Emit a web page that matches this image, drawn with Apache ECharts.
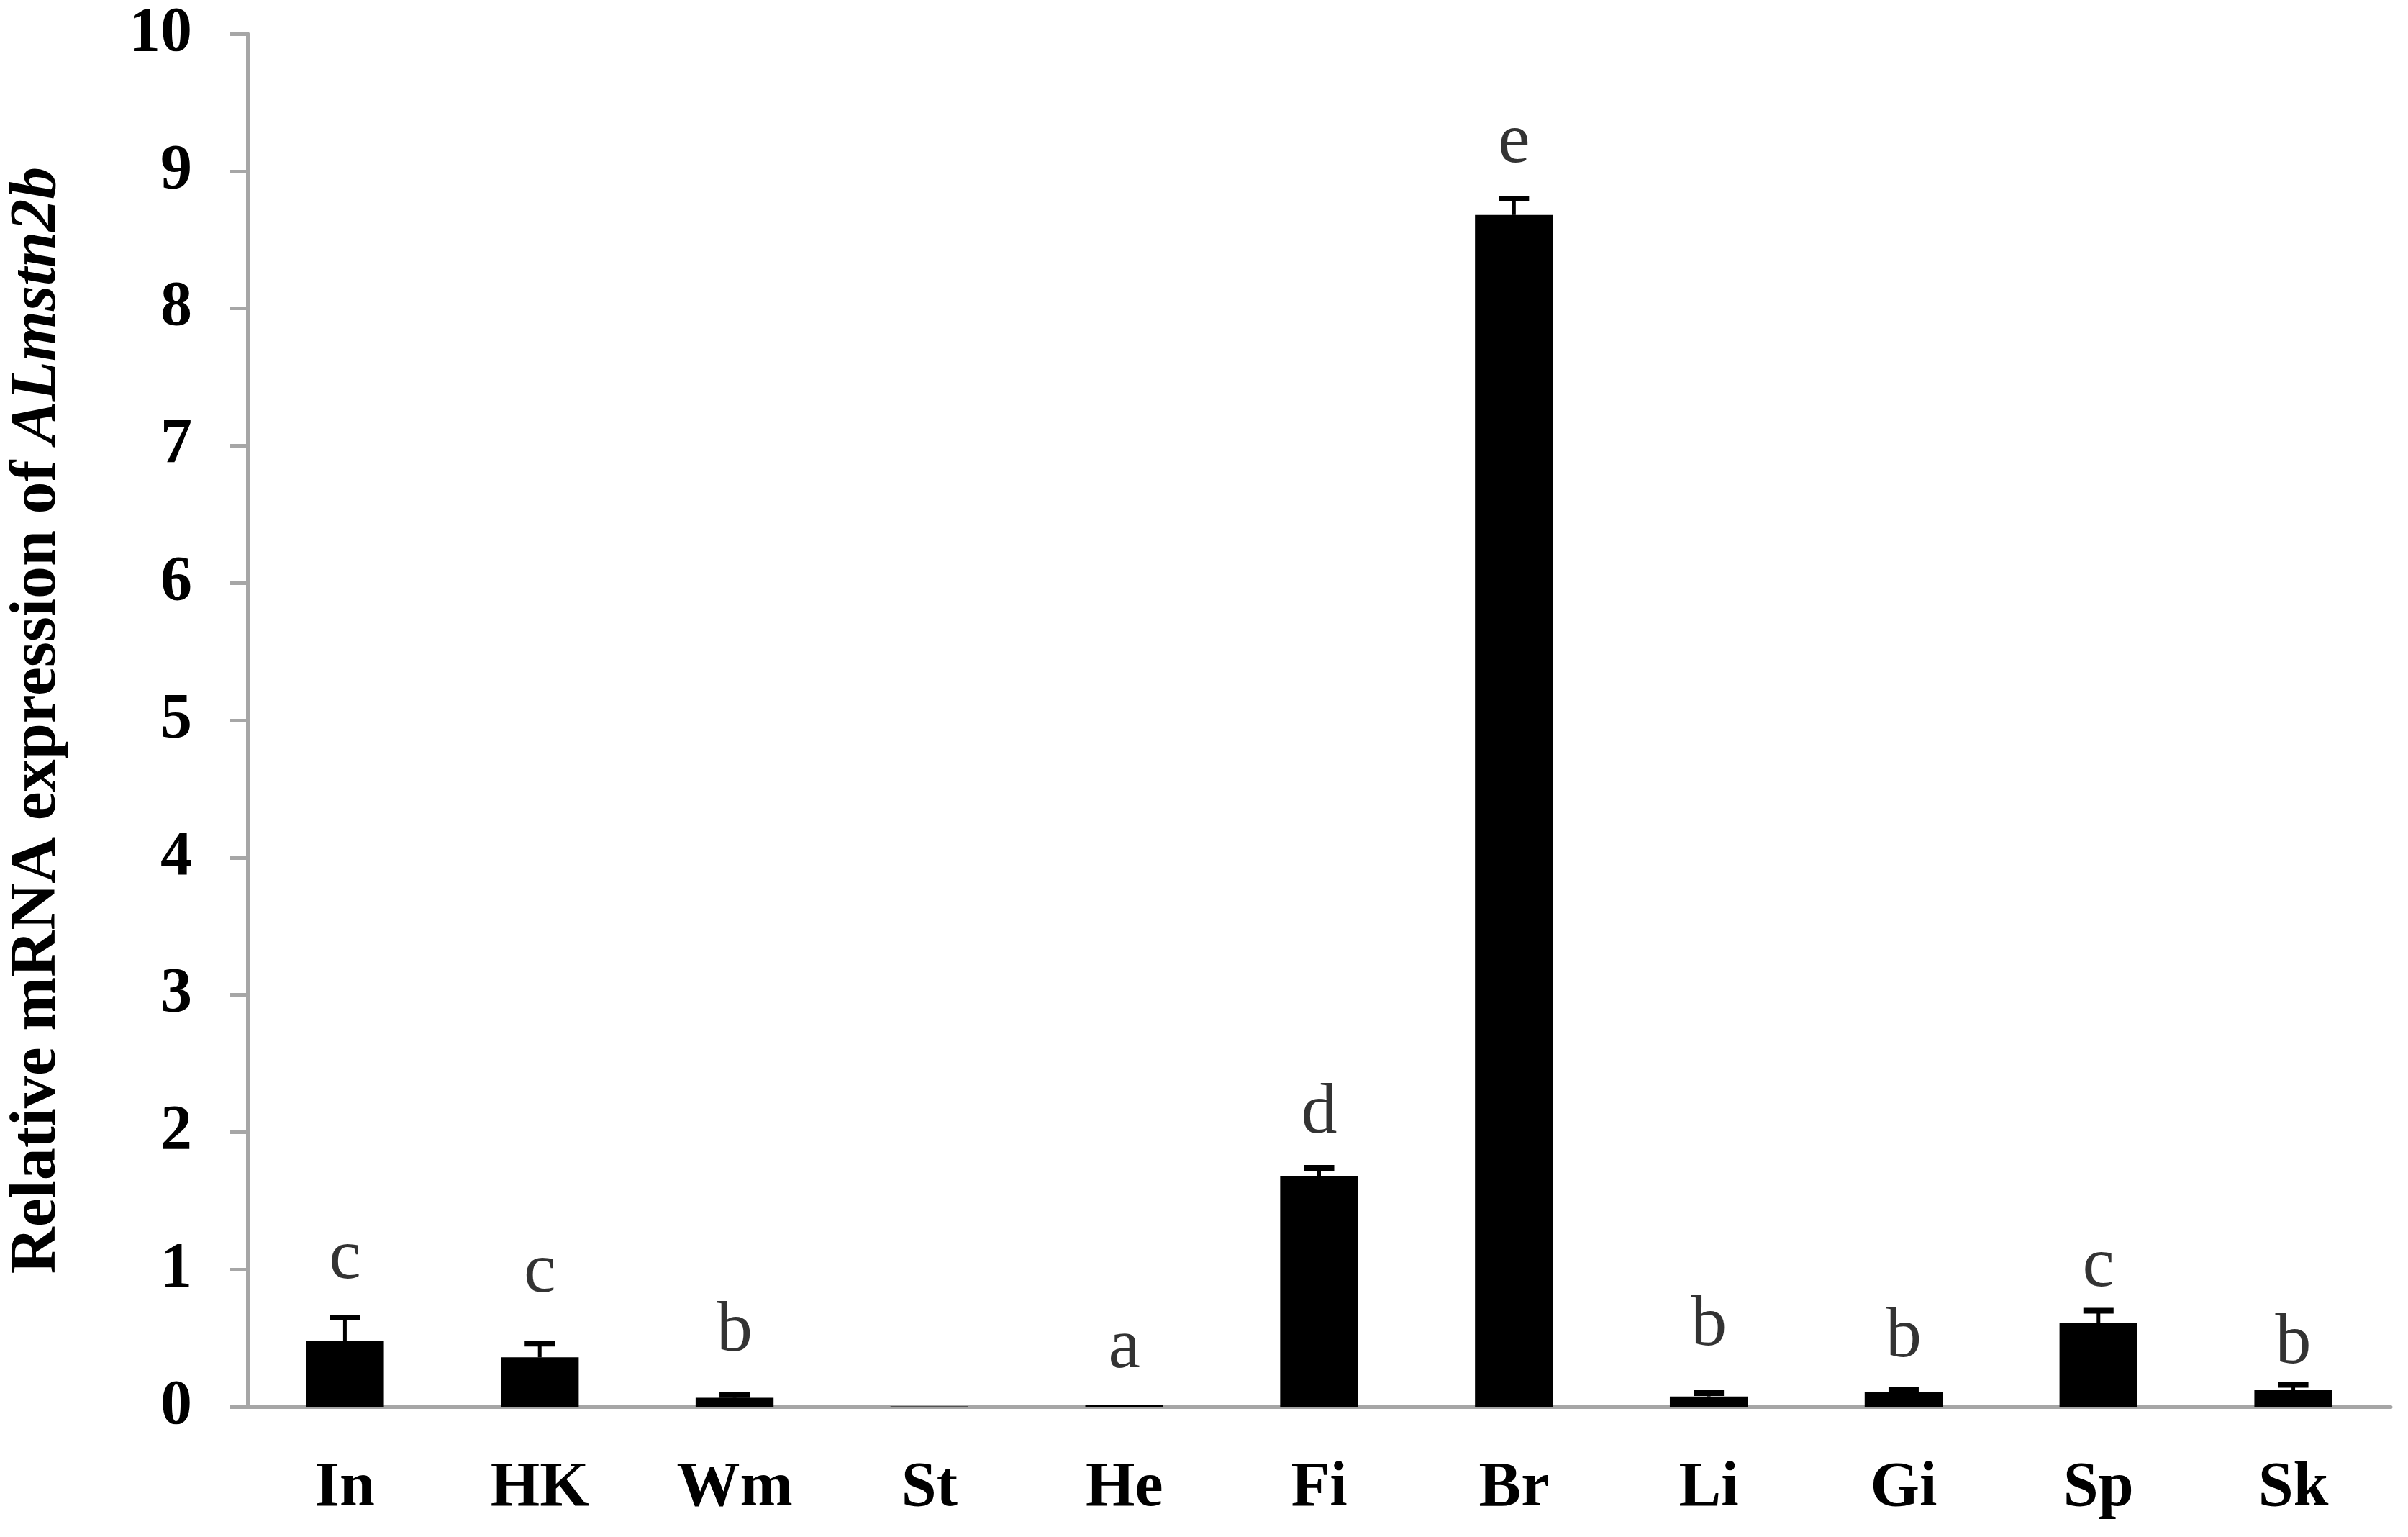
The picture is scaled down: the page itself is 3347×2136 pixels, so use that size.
<!DOCTYPE html>
<html>
<head>
<meta charset="utf-8">
<script src="https://cdn.jsdelivr.net/npm/echarts@6/dist/echarts.min.js"></script>
<style>
  html, body { margin: 0; padding: 0; background: #fff; }
  #chart { width: 3347px; height: 2136px; }
</style>
</head>
<body>
<div id="chart"></div>
<script>
    'use strict'

    /*-----data-----*/
    var categories = ['In', 'HK', 'Wm', 'St', 'He', 'Fi', 'Br', 'Li', 'Gi', 'Sp', 'Sk'];
    var means = [0.48, 0.36, 0.065, 0.002, 0.012, 1.68, 8.68, 0.075, 0.108, 0.61, 0.12];
    var errors = [0.17, 0.10, 0.02, 0, 0, 0.06, 0.12, 0.025, 0.015, 0.09, 0.04];
    var letters = ['c', 'c', 'b', '', 'a', 'd', 'e', 'b', 'b', 'c', 'b'];
    var letterY = [0.93, 0.83, 0.40, 0, 0.28, 1.99, 9.06, 0.44, 0.36, 0.87, 0.31];

    var font = '"Liberation Serif", "Times New Roman", serif';
    var axisGrey = '#a6a6a6';

    var errData = means.map(function (m, i) {
        return [i, m, m + errors[i]];
    });
    var letterData = [];
    letters.forEach(function (l, i) {
        if (l) letterData.push({ name: l, value: [i, letterY[i]] });
    });

    var chart = document.getElementById('chart');
    var barChart = echarts.init(chart);
    var option = {
        animation: false,
        grid: {
            top: 47,
            right: 24,
            bottom: 181,
            left: 344
        },
        xAxis: {
            type: 'category',
            data: categories,
            axisLine: {
                lineStyle: { color: axisGrey, width: 5 }
            },
            axisTick: {
                length: 27,
                lineStyle: { color: axisGrey, width: 5 }
            },
            axisLabel: {
                margin: 70,
                fontSize: 88,
                fontWeight: 'bold',
                fontFamily: font,
                color: '#000'
            }
        },
        yAxis: {
            type: 'value',
            min: 0,
            max: 10,
            interval: 1,
            name: '{n|Relative mRNA expression of }{i|ALmstn2b}',
            nameLocation: 'middle',
            nameRotate: 90,
            nameGap: 246,
            nameTextStyle: {
                rich: {
                    n: { fontSize: 90, fontWeight: 'bold', fontFamily: font, color: '#000' },
                    i: { fontSize: 90, fontWeight: 'bold', fontStyle: 'italic', fontFamily: font, color: '#000' }
                }
            },
            splitLine: { show: false },
            axisLine: {
                show: true,
                lineStyle: { color: axisGrey, width: 5 }
            },
            axisTick: {
                show: true,
                length: 25,
                lineStyle: { color: axisGrey, width: 5 }
            },
            axisLabel: {
                margin: 77,
                fontSize: 88,
                fontWeight: 'bold',
                fontFamily: font,
                color: '#000'
            }
        },
        series: [{
            name: 'expression',
            type: 'bar',
            data: means,
            barWidth: '40%',
            itemStyle: { color: '#000' }
        }, {
            name: 'error',
            type: 'custom',
            data: errData,
            z: 3,
            renderItem: function (params, api) {
                if (api.value(2) - api.value(1) <= 0) return;
                var top = api.coord([api.value(0), api.value(2)]);
                var base = api.coord([api.value(0), api.value(1)]);
                return {
                    type: 'group',
                    children: [{
                        type: 'line',
                        shape: { x1: top[0], y1: base[1], x2: top[0], y2: top[1] },
                        style: { stroke: '#000', lineWidth: 5 }
                    }, {
                        type: 'line',
                        shape: { x1: top[0] - 21, y1: top[1], x2: top[0] + 21, y2: top[1] },
                        style: { stroke: '#000', lineWidth: 8 }
                    }]
                };
            }
        }, {
            name: 'letters',
            type: 'scatter',
            data: letterData,
            symbolSize: 1,
            itemStyle: { color: 'rgba(0,0,0,0)' },
            label: {
                show: true,
                position: 'inside',
                formatter: '{b}',
                offset: [0, -28],
                fontSize: 100,
                fontFamily: font,
                color: '#000',
                textBorderWidth: 0
            }
        }]
    };
    barChart.setOption(option);
    window.addEventListener('resize', function () {
        barChart.resize();
    })
</script>
</body>
</html>
